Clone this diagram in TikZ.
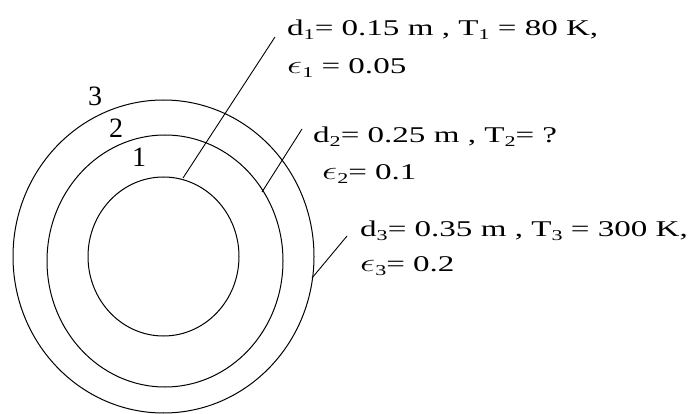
\documentclass[tikz,border=0pt]{standalone}
\usepackage{fontspec}
\usepackage{graphicx}
\setmainfont{Liberation Serif}
\newcommand\sbs[1]{\raisebox{-0.38ex}{\fontsize{15}{15}\selectfont #1}}
\newcommand\eps{\scalebox{1.25}{$\epsilon$}}
\newcommand\wide[1]{\scalebox{1.47}[1]{#1}}
\begin{document}
\begin{tikzpicture}[x=1pt,y=-1pt,
  ring/.style={draw=black,line width=1pt},
  leader/.style={draw=black,line width=0.9pt},
  txt/.style={anchor=base west,inner sep=0pt,font=\fontsize{22.5}{22.5}\selectfont},
  num/.style={inner sep=0pt,font=\fontsize{28}{28}\selectfont}]
\useasboundingbox (0,0) rectangle (691,414);
\draw[ring] (163.5,256.5) ellipse [x radius=75.5,y radius=79.5];
\draw[ring] (165,261) ellipse [x radius=118,y radius=126];
\draw[ring] (163.5,256.5) ellipse [x radius=150.5,y radius=156.5];
\node[num] (n3) at (95,96) {3};
\node[num] (n2) at (116,128) {2};
\node[num] (n1) at (139,157) {1};
\coordinate (p1) at (183,178);
\coordinate (q1) at (275,37);
\coordinate (p2) at (262,192);
\coordinate (q2) at (302,129);
\coordinate (p3) at (312,278);
\coordinate (q3) at (347,236);
\draw[leader] (p1) -- (q1);
\draw[leader] (p2) -- (q2);
\draw[leader] (p3) -- (q3);
\node[txt] (t1) at (287,36) {\wide{d\sbs{1}= 0.15 m , T\sbs{1} = 80 K,}};
\node[txt] (e1) at (287,74) {\wide{\eps\sbs{1} = 0.05}};
\node[txt] (t2) at (313,143) {\wide{d\sbs{2}= 0.25 m , T\sbs{2}= ?}};
\node[txt] (e2) at (322,180) {\wide{\eps\sbs{2}= 0.1}};
\node[txt] (t3) at (360,237) {\wide{d\sbs{3}= 0.35 m , T\sbs{3} = 300 K,}};
\node[txt] (e3) at (360,272) {\wide{\eps\sbs{3}= 0.2}};
\end{tikzpicture}
\end{document}
